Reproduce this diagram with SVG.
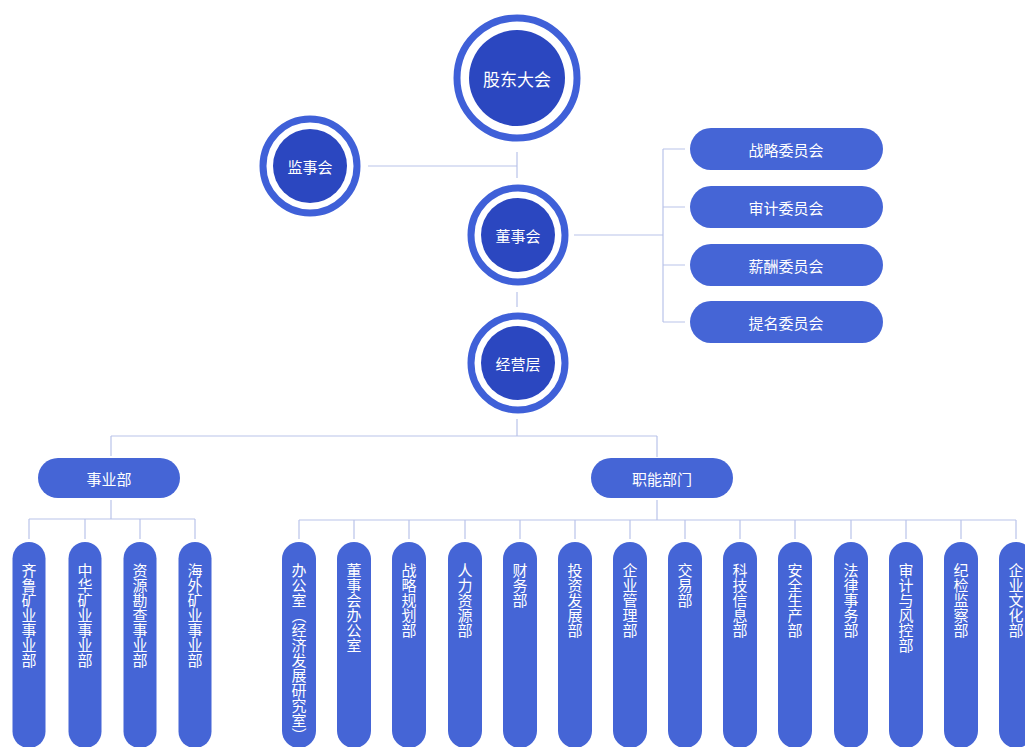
<svg xmlns="http://www.w3.org/2000/svg" width="1025" height="747" viewBox="0 0 1025 747">
<style>
.ring{fill:#ffffff;stroke:#3f60d8;stroke-width:7}
.core{fill:#2b47c0}
.box{fill:#4565d6}
.lbl{font-family:"Noto Sans CJK SC","Noto Sans",sans-serif;fill:#ffffff;text-anchor:middle;dominant-baseline:central}
.vt{font-family:"Noto Sans CJK SC","Noto Sans",sans-serif;fill:#ffffff;font-size:15px;writing-mode:vertical-rl;text-anchor:start}
.ln{fill:none;stroke:#b9c3e9;stroke-width:1.2}
</style>
<rect width="1025" height="747" fill="#ffffff"/>
<g id="connectors" class="ln">
<path d="M517 152V178M368 166H517"/>
<path d="M574 235H663M663 149V322M663 149H685M663 207H685M663 265H685M663 322H685"/>
<path d="M517 292V307"/>
<path d="M517 419V436M111 436H657M111 436V456M657 436V457"/>
<path d="M111 500V519M29 519H195M29 519V539M85 519V539M140 519V539M195 519V539"/>
<path d="M657 500V520M299 520H1016"/>
<path d="M299 520V539M354 520V539M409 520V539M465 520V539M520 520V539M575 520V539M630 520V539M685 520V539M740 520V539M795 520V539M851 520V539M906 520V539M961 520V539M1016 520V539"/>
</g>
<g id="gudongdahui"><circle class="ring" cx="517" cy="78" r="60"/><circle class="core" cx="517" cy="78" r="48"/><text class="lbl" x="517" y="78" font-size="17">股东大会</text></g>
<g id="jianshihui"><circle class="ring" cx="310" cy="166" r="47"/><circle class="core" cx="310" cy="166" r="37"/><text class="lbl" x="310" y="166" font-size="15">监事会</text></g>
<g id="dongshihui"><circle class="ring" cx="518" cy="235" r="47"/><circle class="core" cx="518" cy="235" r="37"/><text class="lbl" x="518" y="235" font-size="15">董事会</text></g>
<g id="jingyingceng"><circle class="ring" cx="518" cy="363" r="47"/><circle class="core" cx="518" cy="363" r="37"/><text class="lbl" x="518" y="363" font-size="15">经营层</text></g>
<g id="zhanlue"><rect class="box" x="690" y="128" width="193" height="42" rx="21"/><text class="lbl" x="786" y="149" font-size="15">战略委员会</text></g>
<g id="shenji"><rect class="box" x="690" y="186" width="193" height="42" rx="21"/><text class="lbl" x="786" y="207" font-size="15">审计委员会</text></g>
<g id="xinchou"><rect class="box" x="690" y="244" width="193" height="42" rx="21"/><text class="lbl" x="786" y="265" font-size="15">薪酬委员会</text></g>
<g id="timing"><rect class="box" x="690" y="301" width="193" height="42" rx="21"/><text class="lbl" x="786" y="322" font-size="15">提名委员会</text></g>
<g id="shiyebu"><rect class="box" x="38" y="458" width="142" height="40" rx="20"/><text class="lbl" x="109" y="478" font-size="15">事业部</text></g>
<g id="zhinengbumen"><rect class="box" x="591" y="458" width="142" height="40" rx="20"/><text class="lbl" x="662" y="478" font-size="15">职能部门</text></g>
<g id="b1"><rect class="box" x="12.5" y="542" width="33" height="206" rx="16.5"/><text class="vt" x="29" y="563">齐鲁矿业事业部</text></g>
<g id="b2"><rect class="box" x="68.5" y="542" width="33" height="206" rx="16.5"/><text class="vt" x="85" y="563">中华矿业事业部</text></g>
<g id="b3"><rect class="box" x="123.5" y="542" width="33" height="206" rx="16.5"/><text class="vt" x="140" y="563">资源勘查事业部</text></g>
<g id="b4"><rect class="box" x="178.5" y="542" width="33" height="206" rx="16.5"/><text class="vt" x="195" y="563">海外矿业事业部</text></g>
<g id="f1"><rect class="box" x="282" y="542" width="34" height="206" rx="17"/><text class="vt" x="299" y="563">办公室（经济发展研究室）</text></g>
<g id="f2"><rect class="box" x="337" y="542" width="34" height="206" rx="17"/><text class="vt" x="354" y="563">董事会办公室</text></g>
<g id="f3"><rect class="box" x="392" y="542" width="34" height="206" rx="17"/><text class="vt" x="409" y="563">战略规划部</text></g>
<g id="f4"><rect class="box" x="448" y="542" width="34" height="206" rx="17"/><text class="vt" x="465" y="563">人力资源部</text></g>
<g id="f5"><rect class="box" x="503" y="542" width="34" height="206" rx="17"/><text class="vt" x="520" y="563">财务部</text></g>
<g id="f6"><rect class="box" x="558" y="542" width="34" height="206" rx="17"/><text class="vt" x="575" y="563">投资发展部</text></g>
<g id="f7"><rect class="box" x="613" y="542" width="34" height="206" rx="17"/><text class="vt" x="630" y="563">企业管理部</text></g>
<g id="f8"><rect class="box" x="668" y="542" width="34" height="206" rx="17"/><text class="vt" x="685" y="563">交易部</text></g>
<g id="f9"><rect class="box" x="723" y="542" width="34" height="206" rx="17"/><text class="vt" x="740" y="563">科技信息部</text></g>
<g id="f10"><rect class="box" x="778" y="542" width="34" height="206" rx="17"/><text class="vt" x="795" y="563">安全生产部</text></g>
<g id="f11"><rect class="box" x="834" y="542" width="34" height="206" rx="17"/><text class="vt" x="851" y="563">法律事务部</text></g>
<g id="f12"><rect class="box" x="889" y="542" width="34" height="206" rx="17"/><text class="vt" x="906" y="563">审计与风控部</text></g>
<g id="f13"><rect class="box" x="944" y="542" width="34" height="206" rx="17"/><text class="vt" x="961" y="563">纪检监察部</text></g>
<g id="f14"><rect class="box" x="999" y="542" width="34" height="206" rx="17"/><text class="vt" x="1016" y="563">企业文化部</text></g>
</svg>
